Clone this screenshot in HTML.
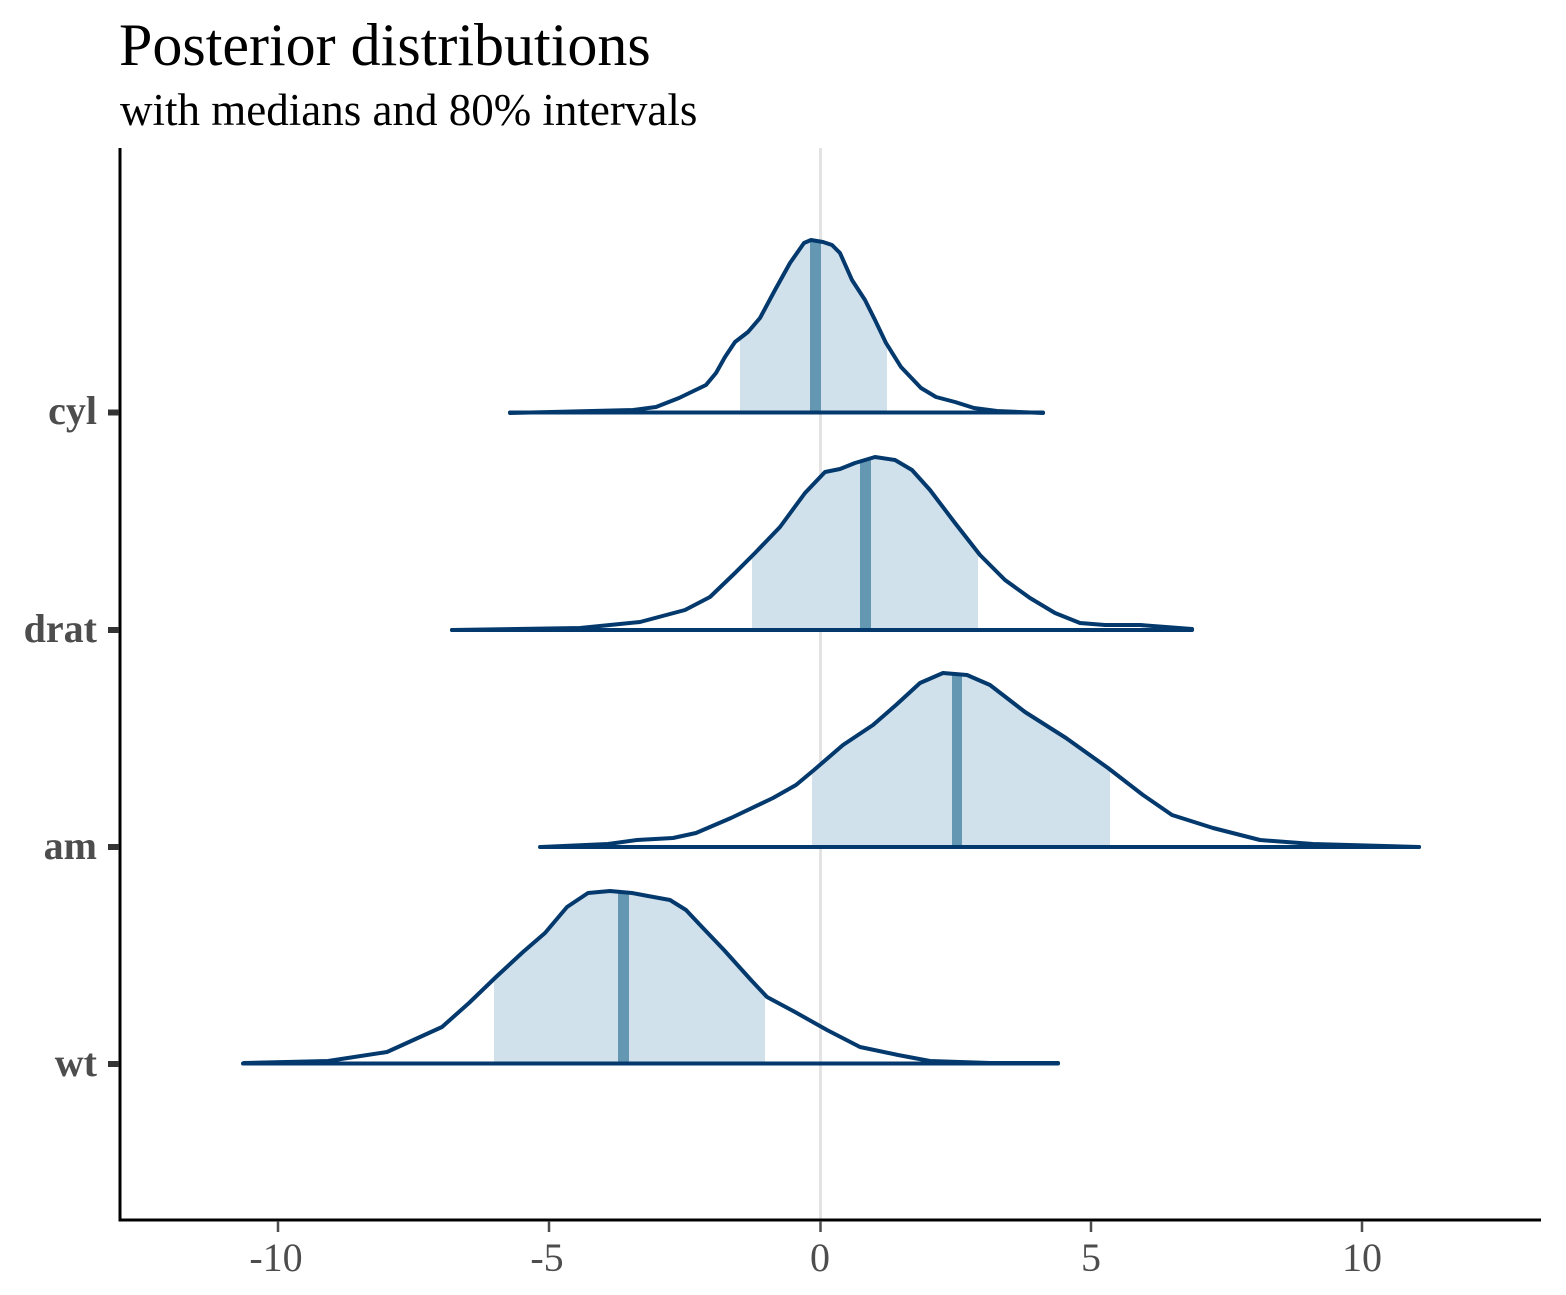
<!DOCTYPE html>
<html>
<head>
<meta charset="utf-8">
<style>
  html, body { margin: 0; padding: 0; background: #ffffff; }
  svg { display: block; }
  text { font-family: "Liberation Serif", "DejaVu Serif", serif; }
</style>
</head>
<body>
<svg width="1566" height="1295" viewBox="0 0 1566 1295" xmlns="http://www.w3.org/2000/svg">
  <rect x="0" y="0" width="1566" height="1295" fill="#ffffff"/>

  <!-- Titles -->
  <text x="119" y="65" font-size="60" fill="#000000">Posterior distributions</text>
  <text x="120" y="125" font-size="45" fill="#000000">with medians and 80% intervals</text>

  <defs>
    <clipPath id="c-cyl">
      <polygon points="510,413 633,410 656,407 679,398 706,385 716,373 725,357 735,342 748,332 760,318 775,290 790,263 804,243 811,240 823,242 832,245 840,253 852,280 865,300 875,320 886,343 901,367 921,388 936,397 955,402 974,408 997,411 1043,413"/>
    </clipPath>
    <clipPath id="c-drat">
      <polygon points="452,630 580,628 640,622 685,610 710,597 735,573 755,553 780,527 805,493 825,472 840,469 855,463 875,457 895,460 912,470 930,490 955,523 980,555 1005,580 1030,598 1055,613 1080,623 1105,625 1140,625 1195,629 1195,631 452,631"/>
    </clipPath>
    <clipPath id="c-am">
      <polygon points="541,847 608,844 637,840 673,838 696,833 731,818 773,798 796,785 814,770 843,745 873,725 896,705 920,683 943,673 967,675 990,685 1025,712 1066,738 1108,768 1143,795 1172,815 1213,828 1260,840 1313,844 1419,847"/>
    </clipPath>
    <clipPath id="c-wt">
      <polygon points="244,1063 328,1061 387,1052 442,1027 469,1003 496,977 523,952 545,933 567,907 588,893 610,891 632,893 648,896 670,900 686,910 702,927 724,950 751,980 767,997 795,1012 827,1030 860,1047 898,1055 930,1061 990,1063 1058,1063"/>
    </clipPath>
  </defs>

  <!-- zero reference line -->
  <line x1="820.5" y1="148" x2="820.5" y2="1219" stroke="#e3e3e3" stroke-width="3"/>

  <!-- cyl -->
  <g>
    <rect x="740" y="200" width="147" height="215" fill="#d1e1ec" clip-path="url(#c-cyl)"/>
    <rect x="810" y="200" width="11" height="215" fill="#6497b1" clip-path="url(#c-cyl)"/>
    <polyline fill="none" stroke="#03396c" stroke-width="4" stroke-linejoin="round" stroke-linecap="round"
      points="510,413 633,410 656,407 679,398 706,385 716,373 725,357 735,342 748,332 760,318 775,290 790,263 804,243 811,240 823,242 832,245 840,253 852,280 865,300 875,320 886,343 901,367 921,388 936,397 955,402 974,408 997,411 1043,413"/>
    <line x1="510" y1="412.5" x2="1043" y2="412.5" stroke="#03396c" stroke-width="4" stroke-linecap="round"/>
  </g>

  <!-- drat -->
  <g>
    <rect x="752" y="420" width="226" height="215" fill="#d1e1ec" clip-path="url(#c-drat)"/>
    <rect x="860" y="420" width="11" height="215" fill="#6497b1" clip-path="url(#c-drat)"/>
    <polyline fill="none" stroke="#03396c" stroke-width="4" stroke-linejoin="round" stroke-linecap="round"
      points="452,630 580,628 640,622 685,610 710,597 735,573 755,553 780,527 805,493 825,472 840,469 855,463 875,457 895,460 912,470 930,490 955,523 980,555 1005,580 1030,598 1055,613 1080,623 1105,625 1140,625 1192,629"/>
    <line x1="452" y1="630" x2="1192" y2="630" stroke="#03396c" stroke-width="4" stroke-linecap="round"/>
  </g>

  <!-- am -->
  <g>
    <rect x="812" y="640" width="298" height="210" fill="#d1e1ec" clip-path="url(#c-am)"/>
    <rect x="952" y="640" width="10" height="210" fill="#6497b1" clip-path="url(#c-am)"/>
    <polyline fill="none" stroke="#03396c" stroke-width="4" stroke-linejoin="round" stroke-linecap="round"
      points="541,847 608,844 637,840 673,838 696,833 731,818 773,798 796,785 814,770 843,745 873,725 896,705 920,683 943,673 967,675 990,685 1025,712 1066,738 1108,768 1143,795 1172,815 1213,828 1260,840 1313,844 1419,847"/>
    <line x1="540" y1="847" x2="1419" y2="847" stroke="#03396c" stroke-width="4" stroke-linecap="round"/>
  </g>

  <!-- wt -->
  <g>
    <rect x="494" y="860" width="271" height="210" fill="#d1e1ec" clip-path="url(#c-wt)"/>
    <rect x="618" y="860" width="11" height="210" fill="#6497b1" clip-path="url(#c-wt)"/>
    <polyline fill="none" stroke="#03396c" stroke-width="4" stroke-linejoin="round" stroke-linecap="round"
      points="244,1063 328,1061 387,1052 442,1027 469,1003 496,977 523,952 545,933 567,907 588,893 610,891 632,893 648,896 670,900 686,910 702,927 724,950 751,980 767,997 795,1012 827,1030 860,1047 898,1055 930,1061 990,1063 1058,1063"/>
    <line x1="243" y1="1063.5" x2="1058" y2="1063.5" stroke="#03396c" stroke-width="4" stroke-linecap="round"/>
  </g>

  <!-- axes -->
  <line x1="120" y1="148" x2="120" y2="1221.5" stroke="#000000" stroke-width="3"/>
  <line x1="118.5" y1="1220" x2="1541" y2="1220" stroke="#000000" stroke-width="3"/>

  <!-- y ticks -->
  <g stroke="#333333" stroke-width="6">
    <line x1="108" y1="412.5" x2="119" y2="412.5"/>
    <line x1="108" y1="630" x2="119" y2="630"/>
    <line x1="108" y1="847" x2="119" y2="847"/>
    <line x1="108" y1="1064" x2="119" y2="1064"/>
  </g>

  <!-- y labels -->
  <g font-size="40" font-weight="bold" fill="#4d4d4d" text-anchor="end">
    <text x="97" y="424">cyl</text>
    <text x="97" y="642">drat</text>
    <text x="97" y="859">am</text>
    <text x="97" y="1076">wt</text>
  </g>

  <!-- x ticks -->
  <g stroke="#4d4d4d" stroke-width="2.5">
    <line x1="278" y1="1221" x2="278" y2="1232"/>
    <line x1="549" y1="1221" x2="549" y2="1232"/>
    <line x1="820.5" y1="1221" x2="820.5" y2="1232"/>
    <line x1="1091" y1="1221" x2="1091" y2="1232"/>
    <line x1="1362" y1="1221" x2="1362" y2="1232"/>
  </g>

  <!-- x labels -->
  <g font-size="40" fill="#4d4d4d" text-anchor="middle">
    <text x="276" y="1271">-10</text>
    <text x="547" y="1271">-5</text>
    <text x="820" y="1271">0</text>
    <text x="1091" y="1271">5</text>
    <text x="1362" y="1271">10</text>
  </g>
</svg>
</body>
</html>
